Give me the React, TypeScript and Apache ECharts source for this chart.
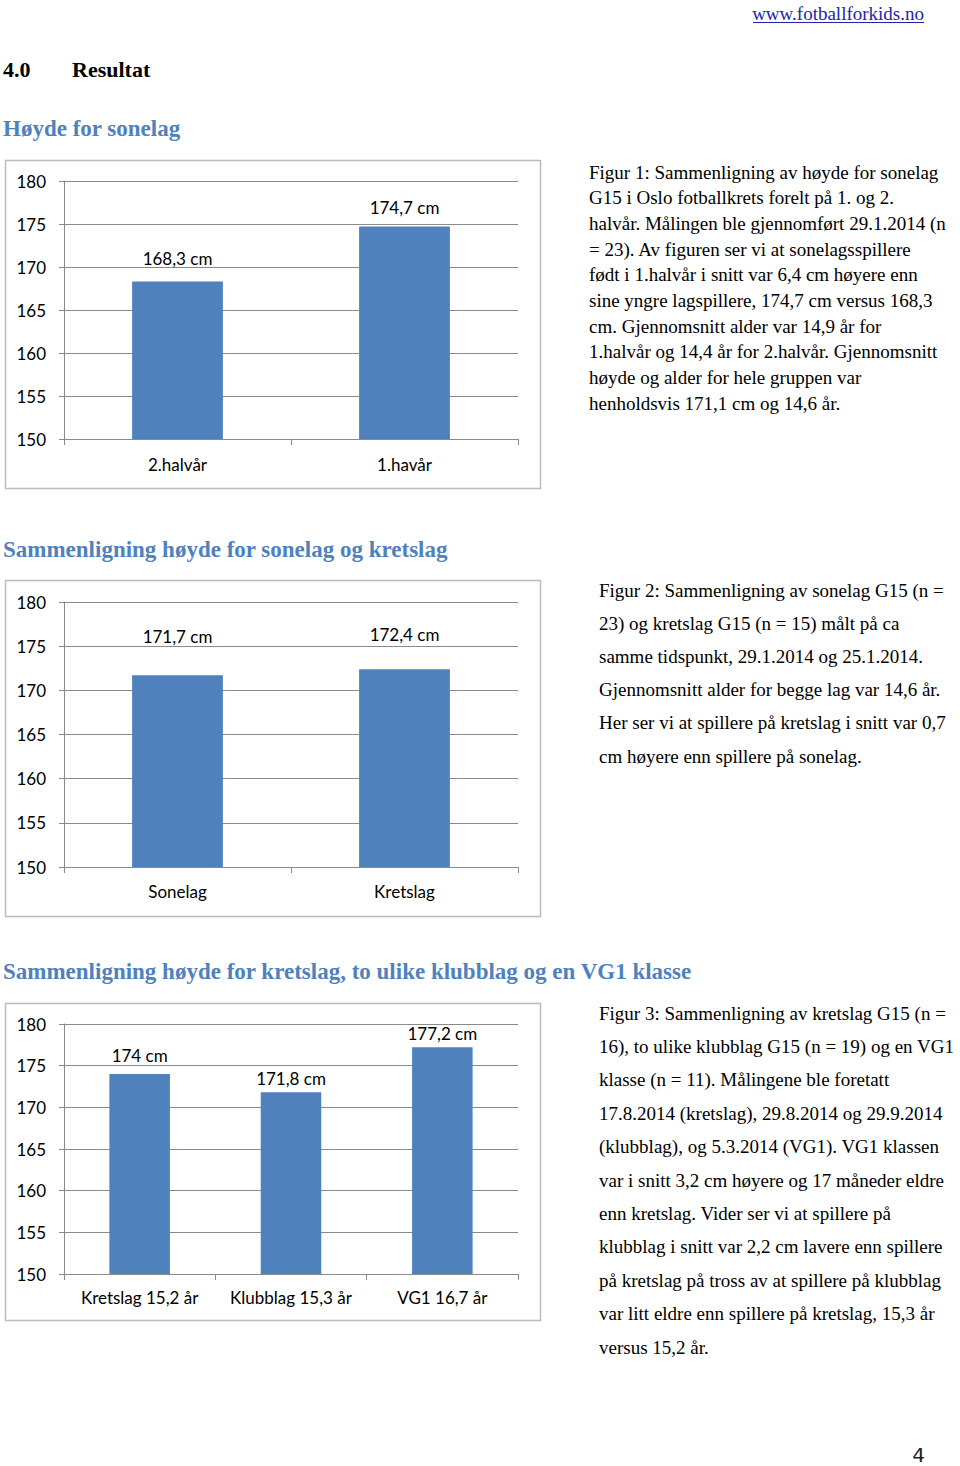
import React, { useEffect, useRef } from "react";
import * as echarts from "echarts";

// ---- data ----
const yMin = 150;
const yMax = 180;
const yStep = 5;

const fig1Categories = ["2.halvår", "1.havår"];
const fig1Values = [168.3, 174.7];

const fig2Categories = ["Sonelag", "Kretslag"];
const fig2Values = [171.7, 172.4];

const fig3Categories = ["Kretslag 15,2 år", "Klubblag 15,3 år", "VG1 16,7 år"];
const fig3Values = [174, 171.8, 177.2];

// label lift above each bar (style, px)
const fig1LabelGap = [15, 11];
const fig2LabelGap = [30, 26];
const fig3LabelGap = [10, 5, 5];

const fig1Text = [
  "Figur 1: Sammenligning av høyde for sonelag",
  "G15 i Oslo fotballkrets forelt på 1. og 2.",
  "halvår. Målingen ble gjennomført 29.1.2014 (n",
  "= 23). Av figuren ser vi at sonelagsspillere",
  "født i 1.halvår i snitt var 6,4 cm høyere enn",
  "sine yngre lagspillere, 174,7 cm versus 168,3",
  "cm. Gjennomsnitt alder var 14,9 år for",
  "1.halvår og 14,4 år for 2.halvår. Gjennomsnitt",
  "høyde og alder for hele gruppen var",
  "henholdsvis 171,1 cm og 14,6 år.",
];
const fig2Text = [
  "Figur 2: Sammenligning av sonelag G15 (n =",
  "23) og kretslag G15 (n = 15) målt på ca",
  "samme tidspunkt, 29.1.2014 og 25.1.2014.",
  "Gjennomsnitt alder for begge lag var 14,6 år.",
  "Her ser vi at spillere på kretslag i snitt var 0,7",
  "cm høyere enn spillere på sonelag.",
];
const fig3Text = [
  "Figur 3: Sammenligning av kretslag G15 (n =",
  "16), to ulike klubblag G15 (n = 19) og en VG1",
  "klasse (n = 11). Målingene ble foretatt",
  "17.8.2014 (kretslag), 29.8.2014 og 29.9.2014",
  "(klubblag), og 5.3.2014 (VG1). VG1 klassen",
  "var i snitt 3,2 cm høyere og 17 måneder eldre",
  "enn kretslag. Vider ser vi at spillere på",
  "klubblag i snitt var 2,2 cm lavere enn spillere",
  "på kretslag på tross av at spillere på klubblag",
  "var litt eldre enn spillere på kretslag, 15,3 år",
  "versus 15,2 år.",
];

const BAR = "#4f81bd";
const GRID = "#8a8a8a";
const FRAME = "#bcbcbc";
const HEAD = "#4f81bd";
const SANS = "Lato, 'Open Sans', sans-serif";
const SERIF = "'Liberation Serif', 'DejaVu Serif', serif";

function fmt(v: number) {
  return String(v).replace(".", ",") + " cm";
}

function textEl(text: string, x: number, y: number, font: string, fill: string, align = "left") {
  return {
    type: "text",
    x,
    y,
    silent: true,
    style: {
      text,
      font,
      fill,
      align,
      textAlign: align,
      verticalAlign: "middle",
      textVerticalAlign: "middle",
    },
  };
}

export default function App() {
  const ref = useRef<HTMLDivElement>(null);

  useEffect(() => {
    if (!ref.current) return;
    const chart = echarts.init(ref.current, undefined, { renderer: "svg" });

    const grids = [
      { left: 64, top: 181, width: 454, height: 258 },
      { left: 64, top: 602, width: 454, height: 265 },
      { left: 64, top: 1024, width: 454, height: 250 },
    ];
    const cats = [fig1Categories, fig2Categories, fig3Categories];
    const vals = [fig1Values, fig2Values, fig3Values];
    const gaps = [fig1LabelGap, fig2LabelGap, fig3LabelGap];
    const xMargins = [17, 16, 15];

    const xAxis = cats.map((c, i) => ({
      type: "category",
      gridIndex: i,
      data: c,
      boundaryGap: true,
      axisLine: { show: true, lineStyle: { color: GRID, width: 1 } },
      axisTick: { show: true, length: 6, lineStyle: { color: GRID } },
      axisLabel: { interval: 0, fontFamily: SANS, fontSize: 17, color: "#000", margin: xMargins[i] },
      splitLine: { show: false },
    }));
    const yAxis = cats.map((_, i) => ({
      type: "value",
      gridIndex: i,
      min: yMin,
      max: yMax,
      interval: yStep,
      axisLine: { show: true, lineStyle: { color: GRID, width: 1 } },
      axisTick: { show: true, length: 5, lineStyle: { color: GRID } },
      axisLabel: { fontFamily: SANS, fontSize: 17, color: "#000", margin: 18 },
      splitLine: { show: true, lineStyle: { color: GRID, width: 1 } },
    }));
    const series = vals.map((v, i) => ({
      type: "bar",
      xAxisIndex: i,
      yAxisIndex: i,
      barWidth: "40%",
      itemStyle: { color: BAR },
      data: v.map((val, j) => ({
        value: val,
        label: {
          show: true,
          position: "top",
          distance: gaps[i][j],
          formatter: () => fmt(val),
          fontFamily: SANS,
          fontSize: 17,
          color: "#000",
        },
      })),
    }));

    const graphic: any[] = [];
    const frames = [
      [5, 160, 535, 328],
      [5, 580, 535, 336],
      [5, 1003, 535, 317],
    ];
    frames.forEach(([x, y, w, h]) =>
      graphic.push({
        type: "rect",
        silent: true,
        shape: { x: x + 0.5, y: y + 0.5, width: w, height: h },
        style: { fill: "none", stroke: FRAME, lineWidth: 1.5 },
      })
    );
    graphic.push(textEl("www.fotballforkids.no", 924, 13, `19px ${SERIF}`, "#2323b0", "right"));
    graphic.push({
      type: "line",
      silent: true,
      shape: { x1: 753, y1: 22.5, x2: 924, y2: 22.5 },
      style: { stroke: "#2323b0", lineWidth: 1 },
    });
    graphic.push(textEl("4.0", 3, 69, `bold 22px ${SERIF}`, "#000"));
    graphic.push(textEl("Resultat", 72, 69, `bold 22px ${SERIF}`, "#000"));
    graphic.push(textEl("Høyde for sonelag", 3, 128, `bold 23px ${SERIF}`, HEAD));
    graphic.push(textEl("Sammenligning høyde for sonelag og kretslag", 3, 549, `bold 23px ${SERIF}`, HEAD));
    graphic.push(
      textEl("Sammenligning høyde for kretslag, to ulike klubblag og en VG1 klasse", 3, 971, `bold 23px ${SERIF}`, HEAD)
    );
    fig1Text.forEach((t, i) => graphic.push(textEl(t, 589, 172 + i * 25.67, `19px ${SERIF}`, "#000")));
    fig2Text.forEach((t, i) => graphic.push(textEl(t, 599, 590 + i * 33.2, `19px ${SERIF}`, "#000")));
    fig3Text.forEach((t, i) => graphic.push(textEl(t, 599, 1013 + i * 33.4, `19px ${SERIF}`, "#000")));
    graphic.push(textEl("4", 925, 1455, `20px 'DejaVu Sans', sans-serif`, "#222", "right"));

    chart.setOption({
      animation: false,
      backgroundColor: "#fff",
      grid: grids.map((g) => ({ ...g, containLabel: false })),
      xAxis,
      yAxis,
      series,
      graphic,
    });

    return () => chart.dispose();
  }, []);

  return (
    <div
      ref={ref}
      style={{ position: "absolute", left: 0, top: 0, width: 960, height: 1466, background: "#fff" }}
    />
  );
}
